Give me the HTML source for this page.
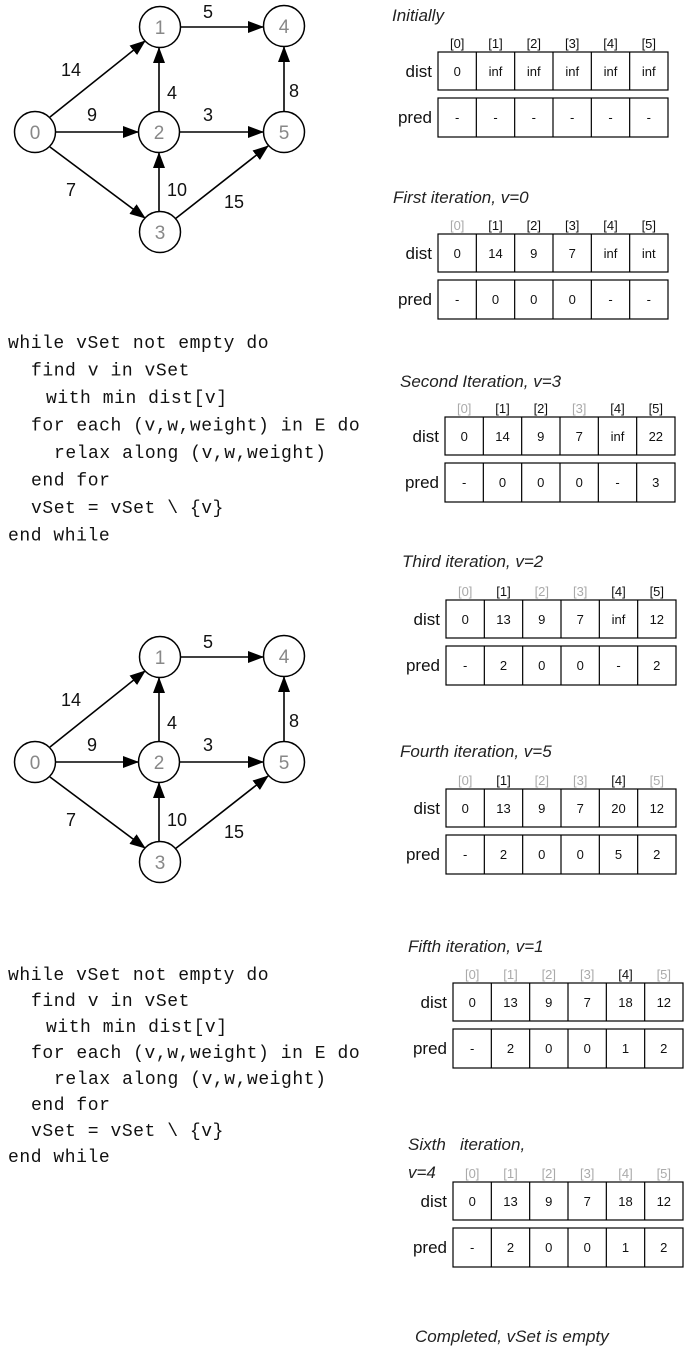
<!DOCTYPE html>
<html><head><meta charset="utf-8"><style>
html,body{margin:0;padding:0;background:#fff;}
svg{display:block;}
.t{font-family:"Liberation Sans",sans-serif;}
.ti{font-family:"Liberation Sans",sans-serif;font-style:italic;font-size:17px;fill:#222;}
.code{font-family:"Liberation Mono",monospace;font-size:18px;letter-spacing:0.55px;fill:#111;white-space:pre;}
.lab{font-family:"Liberation Sans",sans-serif;font-size:17px;fill:#111;text-anchor:end;}
.hd{font-family:"Liberation Sans",sans-serif;font-size:13px;text-anchor:middle;fill:#111;}
.hg{fill:#aaa;}
.v{font-family:"Liberation Sans",sans-serif;font-size:13px;text-anchor:middle;fill:#111;}
.nl{font-family:"Liberation Sans",sans-serif;font-size:19px;fill:#888;text-anchor:middle;}
.el{font-family:"Liberation Sans",sans-serif;font-size:18px;fill:#111;text-anchor:middle;}
</style></head><body>
<svg width="685" height="1350" viewBox="0 0 685 1350" xmlns="http://www.w3.org/2000/svg">
<defs>
<marker id="ah" markerWidth="16" markerHeight="12" refX="15" refY="6" orient="auto" markerUnits="userSpaceOnUse">
<path d="M0,0 L16,6 L0,12 z" fill="#000"/>
</marker>
<g id="graph">
  <g stroke="#000" stroke-width="1.6" fill="none" marker-end="url(#ah)">
    <line x1="181" y1="27" x2="263" y2="27"/>
    <line x1="50" y1="117" x2="145" y2="41"/>
    <line x1="159" y1="111" x2="159" y2="48"/>
    <line x1="284" y1="111" x2="284" y2="47"/>
    <line x1="56" y1="132" x2="138" y2="132"/>
    <line x1="180" y1="132" x2="263" y2="132"/>
    <line x1="50" y1="147" x2="145" y2="218"/>
    <line x1="159" y1="211" x2="159" y2="153"/>
    <line x1="175" y1="219" x2="268" y2="146"/>
  </g>
  <g stroke="#000" stroke-width="1.5" fill="#fff">
    <circle cx="160" cy="27" r="20.5"/>
    <circle cx="284" cy="26" r="20.5"/>
    <circle cx="35" cy="132" r="20.5"/>
    <circle cx="159" cy="132" r="20.5"/>
    <circle cx="284" cy="132" r="20.5"/>
    <circle cx="160" cy="232" r="20.5"/>
  </g>
  <text class="nl" x="160" y="34">1</text>
  <text class="nl" x="284" y="33">4</text>
  <text class="nl" x="35" y="139">0</text>
  <text class="nl" x="159" y="139">2</text>
  <text class="nl" x="284" y="139">5</text>
  <text class="nl" x="160" y="239">3</text>
  <text class="el" x="208" y="18">5</text>
  <text class="el" x="71" y="76">14</text>
  <text class="el" x="172" y="99">4</text>
  <text class="el" x="92" y="121">9</text>
  <text class="el" x="208" y="121">3</text>
  <text class="el" x="294" y="97">8</text>
  <text class="el" x="71" y="196">7</text>
  <text class="el" x="177" y="196">10</text>
  <text class="el" x="234" y="208">15</text>
</g>
<g id="tbl">
  <g stroke="#000" stroke-width="1.2" fill="none">
    <rect x="0" y="0" width="230" height="38"/>
    <rect x="0" y="46" width="230" height="39"/>
    <path d="M38.33,0v38M76.67,0v38M115,0v38M153.33,0v38M191.67,0v38M38.33,46v39M76.67,46v39M115,46v39M153.33,46v39M191.67,46v39"/>
  </g>
  <text class="lab" x="-6" y="25">dist</text>
  <text class="lab" x="-6" y="71">pred</text>
</g>
<g id="code">
</g>
</defs>

<use href="#graph"/>
<use href="#graph" transform="translate(0,630)"/>

<g class="code">
<text class="code" x="8" y="348">while vSet not empty do</text>
<text class="code" x="31" y="375.5">find v in vSet</text>
<text class="code" x="46" y="403">with min dist[v]</text>
<text class="code" x="31" y="430.5">for each (v,w,weight) in E do</text>
<text class="code" x="54" y="458">relax along (v,w,weight)</text>
<text class="code" x="31" y="485.5">end for</text>
<text class="code" x="31" y="513">vSet = vSet \ {v}</text>
<text class="code" x="8" y="540.5">end while</text>

<text class="code" x="8" y="980">while vSet not empty do</text>
<text class="code" x="31" y="1006">find v in vSet</text>
<text class="code" x="46" y="1032">with min dist[v]</text>
<text class="code" x="31" y="1058">for each (v,w,weight) in E do</text>
<text class="code" x="54" y="1084">relax along (v,w,weight)</text>
<text class="code" x="31" y="1110">end for</text>
<text class="code" x="31" y="1136">vSet = vSet \ {v}</text>
<text class="code" x="8" y="1162">end while</text>
</g>

<!-- Initially -->
<text class="ti" x="392" y="21">Initially</text>
<g transform="translate(438,52)">
<use href="#tbl"/>
<text class="hd" x="19.2" y="-4">[0]</text><text class="hd" x="57.5" y="-4">[1]</text><text class="hd" x="95.8" y="-4">[2]</text><text class="hd" x="134.2" y="-4">[3]</text><text class="hd" x="172.5" y="-4">[4]</text><text class="hd" x="210.8" y="-4">[5]</text>
<text class="v" x="19.2" y="24">0</text><text class="v" x="57.5" y="24">inf</text><text class="v" x="95.8" y="24">inf</text><text class="v" x="134.2" y="24">inf</text><text class="v" x="172.5" y="24">inf</text><text class="v" x="210.8" y="24">inf</text>
<text class="v" x="19.2" y="70">-</text><text class="v" x="57.5" y="70">-</text><text class="v" x="95.8" y="70">-</text><text class="v" x="134.2" y="70">-</text><text class="v" x="172.5" y="70">-</text><text class="v" x="210.8" y="70">-</text>
</g>

<!-- First -->
<text class="ti" x="393" y="203">First iteration, v=0</text>
<g transform="translate(438,234)">
<use href="#tbl"/>
<text class="hd hg" x="19.2" y="-4">[0]</text><text class="hd" x="57.5" y="-4">[1]</text><text class="hd" x="95.8" y="-4">[2]</text><text class="hd" x="134.2" y="-4">[3]</text><text class="hd" x="172.5" y="-4">[4]</text><text class="hd" x="210.8" y="-4">[5]</text>
<text class="v" x="19.2" y="24">0</text><text class="v" x="57.5" y="24">14</text><text class="v" x="95.8" y="24">9</text><text class="v" x="134.2" y="24">7</text><text class="v" x="172.5" y="24">inf</text><text class="v" x="210.8" y="24">int</text>
<text class="v" x="19.2" y="70">-</text><text class="v" x="57.5" y="70">0</text><text class="v" x="95.8" y="70">0</text><text class="v" x="134.2" y="70">0</text><text class="v" x="172.5" y="70">-</text><text class="v" x="210.8" y="70">-</text>
</g>

<!-- Second -->
<text class="ti" x="400" y="387">Second Iteration, v=3</text>
<g transform="translate(445,417)">
<use href="#tbl"/>
<text class="hd hg" x="19.2" y="-4">[0]</text><text class="hd" x="57.5" y="-4">[1]</text><text class="hd" x="95.8" y="-4">[2]</text><text class="hd hg" x="134.2" y="-4">[3]</text><text class="hd" x="172.5" y="-4">[4]</text><text class="hd" x="210.8" y="-4">[5]</text>
<text class="v" x="19.2" y="24">0</text><text class="v" x="57.5" y="24">14</text><text class="v" x="95.8" y="24">9</text><text class="v" x="134.2" y="24">7</text><text class="v" x="172.5" y="24">inf</text><text class="v" x="210.8" y="24">22</text>
<text class="v" x="19.2" y="70">-</text><text class="v" x="57.5" y="70">0</text><text class="v" x="95.8" y="70">0</text><text class="v" x="134.2" y="70">0</text><text class="v" x="172.5" y="70">-</text><text class="v" x="210.8" y="70">3</text>
</g>

<!-- Third -->
<text class="ti" x="402" y="567">Third iteration, v=2</text>
<g transform="translate(446,600)">
<use href="#tbl"/>
<text class="hd hg" x="19.2" y="-4">[0]</text><text class="hd" x="57.5" y="-4">[1]</text><text class="hd hg" x="95.8" y="-4">[2]</text><text class="hd hg" x="134.2" y="-4">[3]</text><text class="hd" x="172.5" y="-4">[4]</text><text class="hd" x="210.8" y="-4">[5]</text>
<text class="v" x="19.2" y="24">0</text><text class="v" x="57.5" y="24">13</text><text class="v" x="95.8" y="24">9</text><text class="v" x="134.2" y="24">7</text><text class="v" x="172.5" y="24">inf</text><text class="v" x="210.8" y="24">12</text>
<text class="v" x="19.2" y="70">-</text><text class="v" x="57.5" y="70">2</text><text class="v" x="95.8" y="70">0</text><text class="v" x="134.2" y="70">0</text><text class="v" x="172.5" y="70">-</text><text class="v" x="210.8" y="70">2</text>
</g>

<!-- Fourth -->
<text class="ti" x="400" y="757">Fourth iteration, v=5</text>
<g transform="translate(446,789)">
<use href="#tbl"/>
<text class="hd hg" x="19.2" y="-4">[0]</text><text class="hd" x="57.5" y="-4">[1]</text><text class="hd hg" x="95.8" y="-4">[2]</text><text class="hd hg" x="134.2" y="-4">[3]</text><text class="hd" x="172.5" y="-4">[4]</text><text class="hd hg" x="210.8" y="-4">[5]</text>
<text class="v" x="19.2" y="24">0</text><text class="v" x="57.5" y="24">13</text><text class="v" x="95.8" y="24">9</text><text class="v" x="134.2" y="24">7</text><text class="v" x="172.5" y="24">20</text><text class="v" x="210.8" y="24">12</text>
<text class="v" x="19.2" y="70">-</text><text class="v" x="57.5" y="70">2</text><text class="v" x="95.8" y="70">0</text><text class="v" x="134.2" y="70">0</text><text class="v" x="172.5" y="70">5</text><text class="v" x="210.8" y="70">2</text>
</g>

<!-- Fifth -->
<text class="ti" x="408" y="952">Fifth iteration, v=1</text>
<g transform="translate(453,983)">
<use href="#tbl"/>
<text class="hd hg" x="19.2" y="-4">[0]</text><text class="hd hg" x="57.5" y="-4">[1]</text><text class="hd hg" x="95.8" y="-4">[2]</text><text class="hd hg" x="134.2" y="-4">[3]</text><text class="hd" x="172.5" y="-4">[4]</text><text class="hd hg" x="210.8" y="-4">[5]</text>
<text class="v" x="19.2" y="24">0</text><text class="v" x="57.5" y="24">13</text><text class="v" x="95.8" y="24">9</text><text class="v" x="134.2" y="24">7</text><text class="v" x="172.5" y="24">18</text><text class="v" x="210.8" y="24">12</text>
<text class="v" x="19.2" y="70">-</text><text class="v" x="57.5" y="70">2</text><text class="v" x="95.8" y="70">0</text><text class="v" x="134.2" y="70">0</text><text class="v" x="172.5" y="70">1</text><text class="v" x="210.8" y="70">2</text>
</g>

<!-- Sixth -->
<text class="ti" x="408" y="1150" style="white-space:pre">Sixth   iteration,</text>
<text class="ti" x="408" y="1178">v=4</text>
<g transform="translate(453,1182)">
<use href="#tbl"/>
<text class="hd hg" x="19.2" y="-4">[0]</text><text class="hd hg" x="57.5" y="-4">[1]</text><text class="hd hg" x="95.8" y="-4">[2]</text><text class="hd hg" x="134.2" y="-4">[3]</text><text class="hd hg" x="172.5" y="-4">[4]</text><text class="hd hg" x="210.8" y="-4">[5]</text>
<text class="v" x="19.2" y="24">0</text><text class="v" x="57.5" y="24">13</text><text class="v" x="95.8" y="24">9</text><text class="v" x="134.2" y="24">7</text><text class="v" x="172.5" y="24">18</text><text class="v" x="210.8" y="24">12</text>
<text class="v" x="19.2" y="70">-</text><text class="v" x="57.5" y="70">2</text><text class="v" x="95.8" y="70">0</text><text class="v" x="134.2" y="70">0</text><text class="v" x="172.5" y="70">1</text><text class="v" x="210.8" y="70">2</text>
</g>

<text class="ti" x="415" y="1342">Completed, vSet is empty</text>
</svg>
</body></html>
